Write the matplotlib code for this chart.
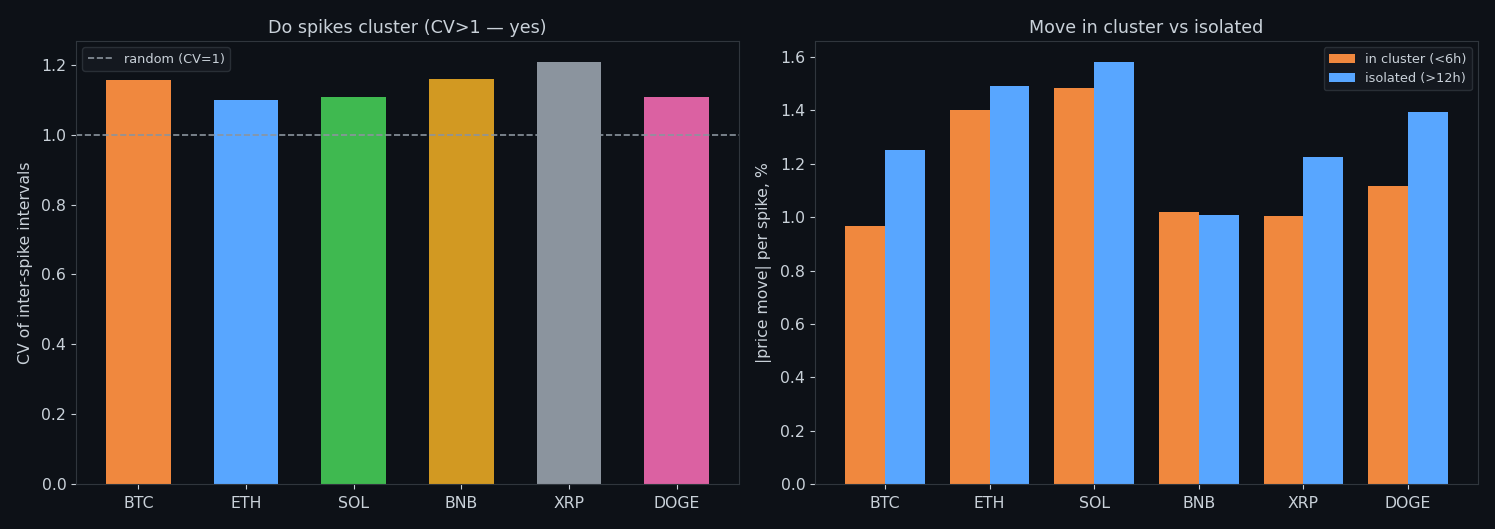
import numpy as np
import matplotlib
matplotlib.use("Agg")
import matplotlib.pyplot as plt

coins = ["BTC", "ETH", "SOL", "BNB", "XRP", "DOGE"]
cv_values = [1.157, 1.10, 1.108, 1.16, 1.208, 1.108]
coin_colors = ["#f0883e", "#58a6ff", "#3fb950", "#d29922", "#8b949e", "#db61a2"]
move_cluster = [0.967, 1.401, 1.484, 1.019, 1.004, 1.117]
move_isolated = [1.251, 1.491, 1.581, 1.008, 1.225, 1.394]

BG = "#0d1117"
FG = "#c9d1d9"
EDGE = "#30363d"

plt.rcParams.update({
    "figure.facecolor": BG,
    "axes.facecolor": BG,
    "axes.edgecolor": EDGE,
    "axes.labelcolor": FG,
    "text.color": FG,
    "xtick.color": FG,
    "ytick.color": FG,
    "xtick.labelsize": 11.3,
    "ytick.labelsize": 11.3,
    "xtick.major.pad": 5,
    "axes.labelsize": 11.3,
    "axes.titlesize": 12.6,
})

fig = plt.figure(figsize=(14.95, 5.29), dpi=100)
ax1 = fig.add_axes([76 / 1495, 45 / 529, 663 / 1495, 443 / 529])
ax2 = fig.add_axes([815 / 1495, 45 / 529, 663 / 1495, 443 / 529])

x = np.arange(len(coins))
ax1.bar(x, cv_values, width=0.6, color=coin_colors)
ax1.axhline(1.0, color="#8b949e", linestyle="--", linewidth=1.2, label="random (CV=1)")
ax1.set_xticks(x)
ax1.set_xticklabels(coins)
ax1.set_ylabel("CV of inter-spike intervals", labelpad=6)
ax1.set_title("Do spikes cluster (CV>1 — yes)", color=FG)
ax1.legend(loc="upper left", fontsize=9.3, facecolor="#161b22", edgecolor=EDGE, labelcolor=FG)

w = 0.38
ax2.bar(x - w / 2, move_cluster, width=w, color="#f0883e", label="in cluster (<6h)")
ax2.bar(x + w / 2, move_isolated, width=w, color="#58a6ff", label="isolated (>12h)")
ax2.set_xticks(x)
ax2.set_xticklabels(coins)
ax2.set_ylabel("|price move| per spike, %", labelpad=6)
ax2.set_title("Move in cluster vs isolated", color=FG)
ax2.legend(loc="upper right", fontsize=9.3, facecolor="#161b22", edgecolor=EDGE, labelcolor=FG)

for ax in (ax1, ax2):
    for spine in ax.spines.values():
        spine.set_color(EDGE)

fig.savefig("out.png", dpi=100, facecolor=BG)
